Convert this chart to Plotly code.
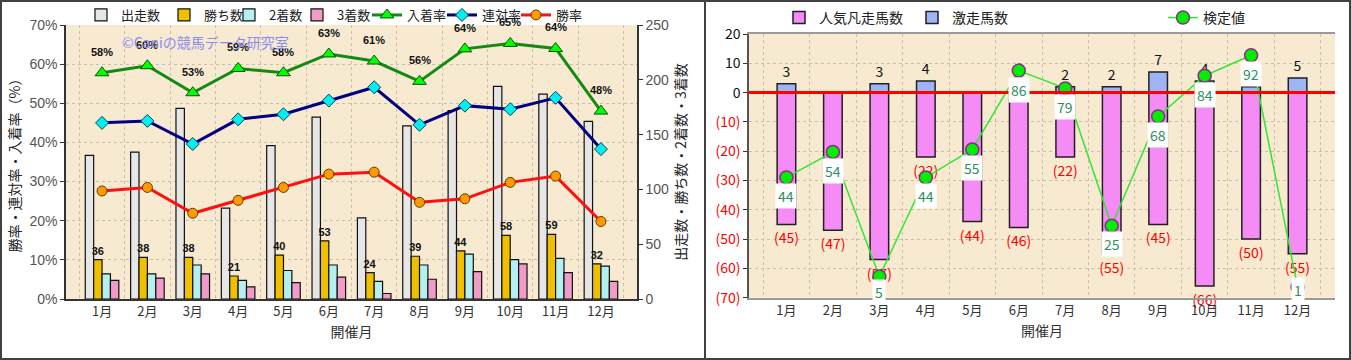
import plotly.graph_objects as go

# ---------------- data (left chart) ----------------
months = ["1月", "2月", "3月", "4月", "5月", "6月", "7月", "8月", "9月", "10月", "11月", "12月"]
runs = [131, 134, 174, 83, 140, 166, 74, 158, 172, 194, 187, 162]
wins = [36, 38, 38, 21, 40, 53, 24, 39, 44, 58, 59, 32]
seconds = [23, 23, 31, 17, 26, 31, 16, 31, 41, 36, 37, 30]
thirds = [17, 19, 23, 11, 15, 20, 5, 18, 25, 32, 24, 16]
place_rate = [57.8, 59.6, 52.7, 58.9, 57.8, 62.6, 60.8, 55.6, 63.9, 65.3, 64.0, 48.0]
rentai_rate = [45.0, 45.5, 39.6, 45.9, 47.2, 50.7, 54.1, 44.5, 49.4, 48.5, 51.4, 38.3]
win_rate = [27.6, 28.5, 21.9, 25.2, 28.5, 31.9, 32.4, 24.7, 25.6, 29.8, 31.4, 19.8]
place_labels = ["58%", "60%", "53%", "59%", "58%", "63%", "61%", "56%", "64%", "65%", "64%", "48%"]

# ---------------- data (right chart) ----------------
ninki_bonsou = [-45, -47, -57, -22, -44, -46, -22, -55, -45, -66, -50, -55]
gekisou = [3, 0, 3, 4, 0, 0, 2, 2, 7, 4, 2, 5]
kentei = [44, 54, 5, 44, 55, 86, 79, 25, 68, 84, 92, 1]
y3_ticks = [20, 10, 0, -10, -20, -30, -40, -50, -60, -70]

# label offsets (px) for 検定値 data labels (styling only)
kentei_label_shift = [-19, -19, -15, -19, -19, -19, -19, -18, -19, -19, -19, -3]

FONT = "Noto Sans CJK JP"
W, H = 1351, 360

fig = go.Figure()

# ---- left chart bars (count axis 'y', right side) ----
bar_line = dict(color="#111111", width=1.2)
fig.add_trace(go.Bar(x=months, y=runs, name="出走数", xaxis="x", yaxis="y",
                     marker=dict(color="#e6e6e6", line=bar_line), legend="legend"))
fig.add_trace(go.Bar(x=months, y=wins, name="勝ち数", xaxis="x", yaxis="y",
                     marker=dict(color="#f0c000", line=bar_line), legend="legend2",
                     text=wins, textposition="outside", cliponaxis=False, constraintext="none",
                     textfont=dict(family="Liberation Sans", size=11, color="#111111", weight="bold")))
fig.add_trace(go.Bar(x=months, y=seconds, name="2着数", xaxis="x", yaxis="y",
                     marker=dict(color="#b4f0f0", line=bar_line), legend="legend3"))
fig.add_trace(go.Bar(x=months, y=thirds, name="3着数", xaxis="x", yaxis="y",
                     marker=dict(color="#f09cc8", line=bar_line), legend="legend4"))

# ---- left chart lines (percent axis 'y2', left side) ----
fig.add_trace(go.Scatter(x=months, y=place_rate, name="入着率", mode="lines+markers", xaxis="x", yaxis="y2",
                         line=dict(color="#138a13", width=3), legend="legend5",
                         marker=dict(symbol="triangle-up", size=12, color="#00ff00",
                                     line=dict(color="#105010", width=1))))
fig.add_trace(go.Scatter(x=months, y=rentai_rate, name="連対率", mode="lines+markers", xaxis="x", yaxis="y2",
                         line=dict(color="#000080", width=3), legend="legend6",
                         marker=dict(symbol="diamond", size=10, color="#00f0f0",
                                     line=dict(color="#104060", width=1))))
fig.add_trace(go.Scatter(x=months, y=win_rate, name="勝率", mode="lines+markers", xaxis="x", yaxis="y2",
                         line=dict(color="#ff1010", width=3), legend="legend7",
                         marker=dict(symbol="circle", size=10, color="#ff9900",
                                     line=dict(color="#604000", width=1))))

# ---- right chart bars ----
fig.add_trace(go.Bar(x=months, y=ninki_bonsou, name="人気凡走馬数", xaxis="x2", yaxis="y3",
                     offsetgroup="r", width=0.4, offset=-0.2, legend="legend8",
                     marker=dict(color="#f58cf5", line=dict(color="#202020", width=1.5)),
                     text=[f"({-v})" for v in ninki_bonsou], textposition="outside",
                     cliponaxis=False, constraintext="none",
                     textfont=dict(family=FONT, size=14, color="#ff0000")))
fig.add_trace(go.Bar(x=months, y=gekisou, name="激走馬数", xaxis="x2", yaxis="y3",
                     offsetgroup="r", width=0.4, offset=-0.2, legend="legend9",
                     marker=dict(color="#9fb4f5", line=dict(color="#202020", width=1.5)),
                     text=[str(v) if v > 0 else "" for v in gekisou], textposition="outside",
                     cliponaxis=False, constraintext="none",
                     textfont=dict(family=FONT, size=14, color="#111111")))

# ---- right chart line (hidden axis 'y4') ----
fig.add_trace(go.Scatter(x=months, y=kentei, name="検定値", mode="lines+markers", xaxis="x2", yaxis="y4",
                         line=dict(color="#33e633", width=1.5), legend="legend10", cliponaxis=False,
                         marker=dict(symbol="circle", size=13, color="#00ee00",
                                     line=dict(color="#8a2b8a", width=1.5))))

annotations = []
# 入着率 labels
for m, v, t in zip(months, place_rate, place_labels):
    annotations.append(dict(x=m, y=v, xref="x", yref="y2", text=t, showarrow=False, yshift=21,
                            font=dict(family="Liberation Sans", size=11, color="#111111", weight="bold")))
# 検定値 labels
for m, v, s in zip(months, kentei, kentei_label_shift):
    annotations.append(dict(x=m, y=v, xref="x2", yref="y4", text=str(v), showarrow=False,
                            yshift=s, bgcolor="#ffffff", borderpad=2,
                            font=dict(family=FONT, size=14, color="#2e8f62")))
# watermark
annotations.append(dict(x=205 / W, y=1 - 42 / H, xref="paper", yref="paper", showarrow=False,
                        xanchor="center", yanchor="middle",
                        text="©Caniの競馬データ研究室",
                        font=dict(family=FONT, size=14, color="#8c8cf2")))

y3_text = [str(v) if v >= 0 else f'<span style="color:#ff0000">({-v})</span>' for v in y3_ticks]

grid = dict(showgrid=True, gridcolor="#c8bfae", griddash="dot", gridwidth=1)


def leg(x_px, y_px, size):
    return dict(orientation="h", x=x_px / W, y=1 - y_px / H, xanchor="left", yanchor="top",
                bgcolor="rgba(0,0,0,0)", font=dict(size=size, color="#222222"))


fig.update_layout(
    width=W, height=H,
    margin=dict(l=0, r=0, t=0, b=0, autoexpand=False),
    paper_bgcolor="#ffffff", plot_bgcolor="#f7ead0",
    barmode="group", bargap=0.26, bargroupgap=0,
    font=dict(family=FONT, size=13, color="#333333"),
    showlegend=True,
    xaxis=dict(domain=[66 / W, 637 / W], anchor="y", type="category", tickson="boundaries",
               ticks="", tickfont=dict(size=13, color="#333333"),
               showline=True, linecolor="#333333", linewidth=1.5,
               title=dict(text="開催月", standoff=8, font=dict(size=14, color="#333333")),
               automargin=False, **grid),
    yaxis=dict(domain=[1 - 299 / H, 1 - 25 / H], anchor="x", side="right", range=[0, 250], dtick=50,
               showgrid=False, zeroline=False, ticks="outside", ticklen=4, tickcolor="#333333",
               showline=True, linecolor="#333333", linewidth=1.5,
               tickfont=dict(size=14, color="#555555", family="Liberation Sans"),
               title=dict(text="出走数・勝ち数・2着数・3着数", standoff=8, font=dict(size=14, color="#222222")),
               automargin=False),
    yaxis2=dict(overlaying="y", anchor="x", side="left", range=[0, 70], dtick=10, ticksuffix="%",
                zeroline=False, ticks="outside", ticklen=4, tickcolor="#333333",
                showline=True, linecolor="#333333", linewidth=1.5,
                tickfont=dict(size=14, color="#555555", family="Liberation Sans"),
                title=dict(text="勝率・連対率・入着率（%）", standoff=6, font=dict(size=14, color="#222222")),
                automargin=False, **grid),
    xaxis2=dict(domain=[749 / W, 1335 / W], anchor="y3", type="category", tickson="boundaries",
                ticks="", tickfont=dict(size=13, color="#333333"),
                showline=True, linecolor="#9a9a9a", linewidth=2, mirror=True,
                title=dict(text="開催月", standoff=8, font=dict(size=14, color="#333333")),
                automargin=False, **grid),
    yaxis3=dict(domain=[1 - 297.7 / H, 1 - 34 / H], anchor="x2", range=[-70, 20],
                tickvals=y3_ticks, ticktext=y3_text, zeroline=False,
                ticks="outside", ticklen=4, tickcolor="#333333",
                showline=True, linecolor="#555555", linewidth=1.5,
                tickfont=dict(size=14, color="#111111"), automargin=False, **grid),
    yaxis4=dict(overlaying="y3", anchor="x2", range=[-3.3, 100.4], visible=False, showgrid=False),
    legend=leg(81, 0, 13),
    legend2=leg(164, 0, 13),
    legend3=leg(229, 0, 13),
    legend4=leg(297, 0, 13),
    legend5=leg(367, 0, 13),
    legend6=leg(442, 0, 13),
    legend7=leg(516, 0, 13),
    legend8=leg(779, 2, 14),
    legend9=leg(912, 2, 14),
    legend10=leg(1163, 2, 14),
    annotations=annotations,
    shapes=[
        dict(type="rect", xref="paper", yref="paper", x0=1 / W, x1=1 - 1 / W, y0=1 / H, y1=1 - 1 / H,
             line=dict(color="#404040", width=2)),
        dict(type="line", xref="paper", yref="paper", x0=705 / W, x1=705 / W, y0=0, y1=1,
             line=dict(color="#404040", width=2)),
        dict(type="line", xref="x2 domain", yref="y3", x0=0, x1=1, y0=0, y1=0,
             line=dict(color="#ff0000", width=3), layer="above"),
    ],
)

fig.write_html("out.html", config={"displayModeBar": False},
               post_script="document.body.style.margin='0px';document.body.style.overflow='hidden';")
